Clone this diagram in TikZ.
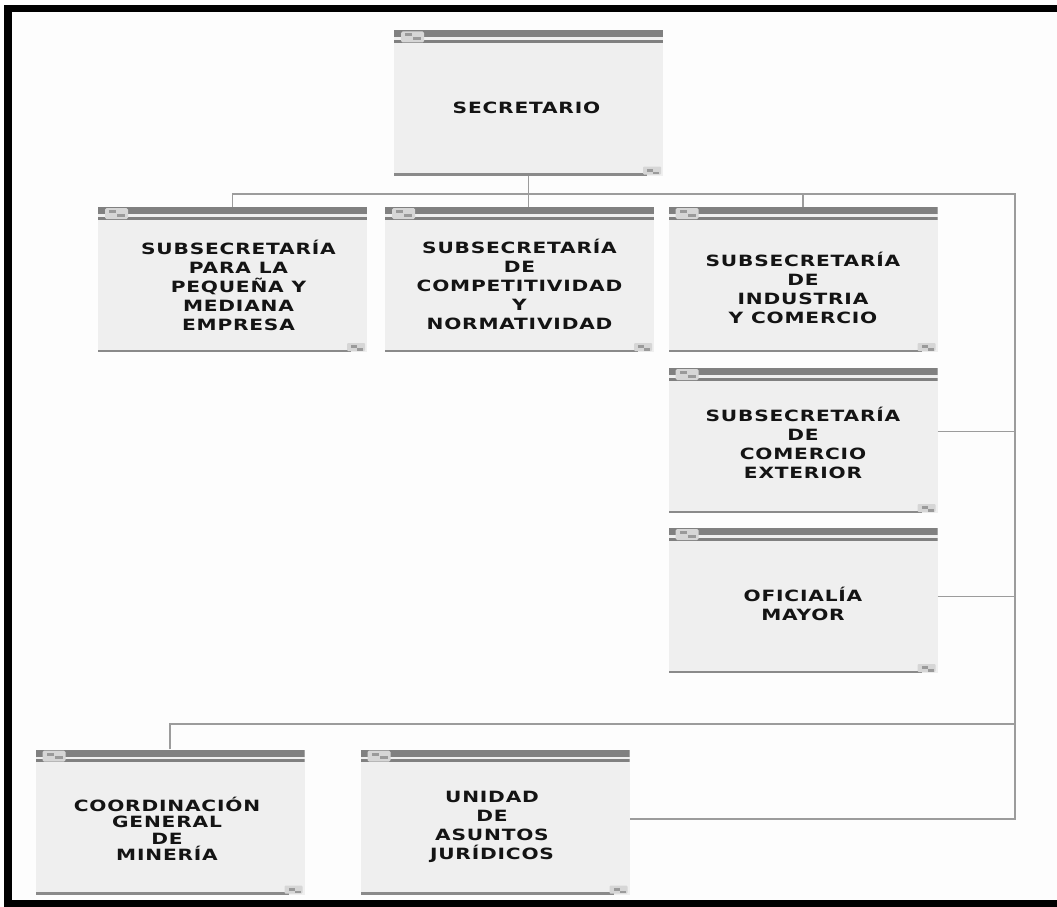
\documentclass[tikz,border=0pt]{standalone}
\usepackage{fontspec}
\usetikzlibrary{calc}
\newfontfamily\orgfont{DejaVu Sans Bold}[LetterSpace=4]
\definecolor{boxfill}{HTML}{EFEFEF}
\definecolor{hdr}{HTML}{808080}
\definecolor{botline}{HTML}{8A8A8A}
\definecolor{connc}{HTML}{9C9C9C}
\definecolor{iconc}{HTML}{D6D6D6}
\definecolor{pagebg}{HTML}{FDFDFD}
\tikzset{
  unit/.style={rectangle, minimum width=269pt, minimum height=145pt, fill=boxfill, inner sep=0pt,
    path picture={
      \coordinate (pnw) at (path picture bounding box.north west);
      \coordinate (pne) at (path picture bounding box.north east);
      \coordinate (psw) at (path picture bounding box.south west);
      \coordinate (pse) at (path picture bounding box.south east);
      \fill[hdr] (pnw) rectangle ($(pne)+(0,7)$);
      \fill[hdr] ($(pnw)+(0,9.5)$) rectangle ($(pne)+(0,12.5)$);
      \fill[iconc, rounded corners=1.5pt] ($(pnw)+(7,1)$) rectangle ($(pnw)+(30,12)$);
      \fill[hdr!80] ($(pnw)+(11,3)$) rectangle ($(pnw)+(18,6)$);
      \fill[hdr!80] ($(pnw)+(19,6.5)$) rectangle ($(pnw)+(27,9.5)$);
      \fill[botline] ($(psw)+(0,-2.5)$) rectangle ($(pse)+(-16,0)$);
      \fill[iconc, rounded corners=1pt] ($(pse)+(-20,-9)$) rectangle ($(pse)+(-2,-1)$);
      \fill[hdr!80] ($(pse)+(-16,-7)$) rectangle ($(pse)+(-10,-4)$);
      \fill[hdr!80] ($(pse)+(-10,-4)$) rectangle ($(pse)+(-4,-1.5)$);
    }},
  txt/.style={align=center, inner sep=0pt, transform shape, xscale=1.3,
    font=\orgfont\fontsize{15.5}{19}\selectfont, text=black!92},
  conn/.style={draw=connc, line width=1.6pt}
}
\begin{document}
\begin{tikzpicture}[x=1pt,y=-1pt]
\useasboundingbox (0,0) rectangle (1057,907);
\fill[pagebg] (0,0) rectangle (1057,907);
\fill[black] (4,5) rectangle (1057,12);
\fill[black] (4,5) rectangle (12,907);
\fill[black] (4,900) rectangle (1057,907);

\node[unit] (S)  at (528.5,103)   {};
\node[unit] (B1) at (232.5,279.5) {};
\node[unit] (B2) at (519.5,279.5) {};
\node[unit] (B3) at (803,279.5)   {};
\node[unit] (B4) at (803,440.5)   {};
\node[unit] (B5) at (803,600.5)   {};
\node[unit] (B6) at (170,822)     {};
\node[unit] (B7) at (495,822)     {};

\node[txt] (St)  at ($(S.center)+(-2,5)$)  {SECRETARIO};
\node[txt] (B1t) at ($(B1.center)+(6,6)$) {SUBSECRETARÍA\\PARA LA\\PEQUEÑA Y\\MEDIANA\\EMPRESA};
\node[txt] (B2t) at ($(B2.center)+(0,5)$) {SUBSECRETARÍA\\DE\\COMPETITIVIDAD\\Y\\NORMATIVIDAD};
\node[txt] (B3t) at ($(B3.center)+(0,8)$) {SUBSECRETARÍA\\DE\\INDUSTRIA\\Y COMERCIO};
\node[txt] (B4t) at ($(B4.center)+(0,2)$) {SUBSECRETARÍA\\DE\\COMERCIO\\EXTERIOR};
\node[txt] (B5t) at ($(B5.center)+(0,3)$) {OFICIALÍA\\MAYOR};
\node[txt, font=\orgfont\fontsize{15.5}{16.5}\selectfont] (B6t) at ($(B6.center)+(-3,7)$) {COORDINACIÓN\\GENERAL\\DE\\MINERÍA};
\node[txt] (B7t) at ($(B7.center)+(-3,5)$) {UNIDAD\\DE\\ASUNTOS\\JURÍDICOS};

\coordinate (bus) at (1015,194);
\coordinate (bus2) at (1015,724);
\coordinate (c4) at ($(B4.east)+(0,-9)$);
\coordinate (c5) at ($(B5.east)+(0,-4)$);
\coordinate (c7) at ($(B7.east)+(0,-3)$);

\draw[conn] (S.south) -- (S.south |- B2.north);
\draw[conn] (B1.north) |- (bus) -- (bus |- c7) -- (c7);
\draw[conn] (B3.north) -- (B3.north |- bus);
\draw[conn] (c4) -- (c4 -| bus);
\draw[conn] (c5) -- (c5 -| bus);
\draw[conn] (B6.north) |- (bus2);
\end{tikzpicture}
\end{document}
